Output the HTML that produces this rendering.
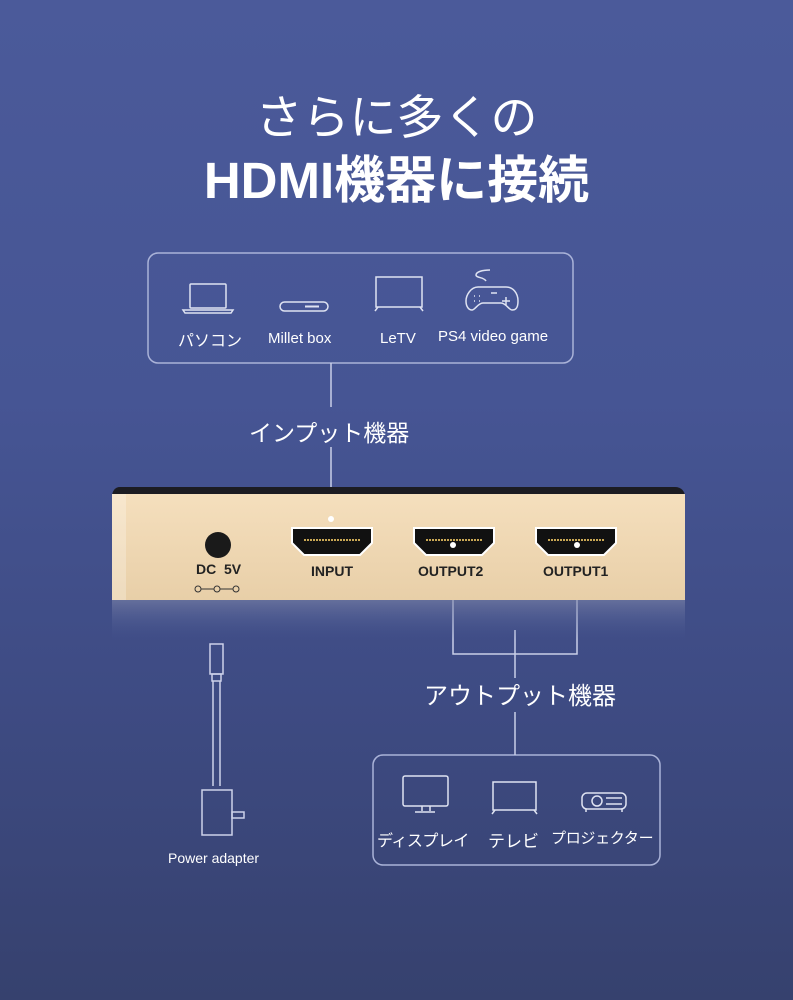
<!DOCTYPE html>
<html><head><meta charset="utf-8"><style>
html,body{margin:0;padding:0}
body{width:793px;height:1000px;position:relative;overflow:hidden;
background:linear-gradient(180deg,#4b5a9a 0%,#465594 40%,#3e4b83 70%,#36416e 100%);
font-family:"Liberation Sans","Noto Sans CJK JP",sans-serif;color:#fff}
.t{position:absolute;white-space:nowrap}
.d{font-family:"Liberation Sans Narrow","Liberation Sans",sans-serif;font-weight:bold;color:#222;font-size:14px}
</style></head><body>
<div class="t" style="left:0;width:793px;top:88px;text-align:center;font-size:47px;line-height:60px">さらに多くの</div>
<div class="t" style="left:0;width:793px;top:150px;text-align:center;font-size:51px;line-height:62px;font-weight:bold">HDMI機器に接続</div>

<svg width="793" height="1000" style="position:absolute;left:0;top:0" xmlns="http://www.w3.org/2000/svg">
<g fill="none" stroke="#dfe3f2" stroke-width="1.5">
<rect x="148" y="253" width="425" height="110" rx="10" stroke="#aab3d8"/>
<line x1="331" y1="363" x2="331" y2="407" stroke="#c9cfe8"/>
<line x1="331" y1="447" x2="331" y2="518" stroke="#c9cfe8"/>
<rect x="190" y="284" width="36" height="24" rx="1"/>
<path d="M183 310h50l-2 3h-46z"/>
<rect x="280" y="302" width="48" height="9" rx="4.5"/>
<path d="M305 306.5h14" stroke-width="2"/>
<rect x="376" y="277" width="46" height="30"/>
<path d="M378 307l-3 4M420 307l3 4"/>
<path d="M490 270c-8 0-14 2-14 5s8 2 10 6"/>
<path d="M478 287h28c7 0 12 6 12 14s-3 9-6 9-6-7-11-7h-18c-5 0-8 7-11 7s-6-3-6-9 5-14 12-14z"/>
<path d="M491 293h6M506 297v8M502 301h8M474 296h1M479 296h1M474 301h1M479 301h1"/>
<rect x="373" y="755" width="287" height="110" rx="10" stroke="#aab3d8"/>
<line x1="515" y1="630" x2="515" y2="678" stroke="#c9cfe8"/>
<line x1="515" y1="712" x2="515" y2="755" stroke="#c9cfe8"/>
<polyline points="453,545 453,654 577,654 577,545" stroke="#c9cfe8"/>
<rect x="403" y="776" width="45" height="30" rx="2"/>
<path d="M422 806v5M430 806v5M415 812h20"/>
<rect x="493" y="782" width="43" height="28"/>
<path d="M495 810l-3 4M534 810l3 4"/>
<rect x="582" y="793" width="44" height="16" rx="5"/>
<circle cx="597" cy="801" r="5"/>
<path d="M606 798h16M606 804h16M586 809v3M622 809v3"/>
<rect x="210" y="644" width="13" height="30" stroke="#cdd2ea"/>
<rect x="212" y="674" width="9" height="7" stroke="#cdd2ea"/>
<path d="M213 681v105M220 681v105" stroke="#cdd2ea"/>
<rect x="202" y="790" width="30" height="45" stroke="#cdd2ea"/>
<rect x="232" y="812" width="12" height="6" stroke="#cdd2ea"/>
</g>
<defs>
<linearGradient id="g" x1="0" y1="0" x2="0" y2="1"><stop offset="0" stop-color="#f5dfbd"/><stop offset="1" stop-color="#e8cfa8"/></linearGradient>
<linearGradient id="r" x1="0" y1="0" x2="0" y2="1"><stop offset="0" stop-color="#7d85a8" stop-opacity=".6"/><stop offset="1" stop-color="#4a5894" stop-opacity="0"/></linearGradient>
</defs>
<rect x="112" y="600" width="573" height="40" fill="url(#r)"/>
<path d="M120 487h555c6 0 10 4 10 10v103h-573v-103c0-6 3-10 8-10z" fill="#1c1c22"/>
<rect x="112" y="494" width="573" height="106" fill="url(#g)"/>
<rect x="112" y="494" width="14" height="106" fill="#fff" opacity=".25"/>
<circle cx="218" cy="545" r="13" fill="#1a1a1a"/>
<g fill="#111" stroke="#fff" stroke-width="2">
<path d="M292 528h80v15l-12 12h-56l-12-12z"/>
<path d="M414 528h80v15l-12 12h-56l-12-12z"/>
<path d="M536 528h80v15l-12 12h-56l-12-12z"/>
</g>
<g stroke="#c9a855" stroke-width="2" stroke-dasharray="2 1">
<line x1="304" y1="540" x2="360" y2="540"/><line x1="426" y1="540" x2="482" y2="540"/><line x1="548" y1="540" x2="604" y2="540"/>
</g>
<g stroke="#333" fill="none" stroke-width="1"><circle cx="198" cy="589" r="3"/><circle cx="217" cy="589" r="3"/><circle cx="236" cy="589" r="3"/><path d="M201 589h13M220 589h13"/></g>
<circle cx="331" cy="519" r="3" fill="#fff"/><circle cx="453" cy="545" r="3" fill="#fff"/><circle cx="577" cy="545" r="3" fill="#fff"/>
</svg>

<div class="t d" style="left:196px;top:561px">DC&nbsp;&nbsp;5V</div>
<div class="t d" style="left:311px;top:563px">INPUT</div>
<div class="t d" style="left:418px;top:563px">OUTPUT2</div>
<div class="t d" style="left:543px;top:563px">OUTPUT1</div>

<div class="t" style="left:178px;top:327px;font-size:16px">パソコン</div>
<div class="t" style="left:268px;top:330px;font-size:15px">Millet box</div>
<div class="t" style="left:380px;top:330px;font-size:15px">LeTV</div>
<div class="t" style="left:438px;top:328px;font-size:15px">PS4 video game</div>
<div class="t" style="left:249px;top:414px;font-size:23px">インプット機器</div>
<div class="t" style="left:424px;top:676px;font-size:24px">アウトプット機器</div>
<div class="t" style="left:377px;top:827px;font-size:16px;letter-spacing:-0.5px">ディスプレイ</div>
<div class="t" style="left:488px;top:827px;font-size:17px">テレビ</div>
<div class="t" style="left:551px;top:827px;font-size:15px;letter-spacing:-0.3px">プロジェクター</div>
<div class="t" style="left:168px;top:850px;font-size:14px">Power adapter</div>
</body></html>
